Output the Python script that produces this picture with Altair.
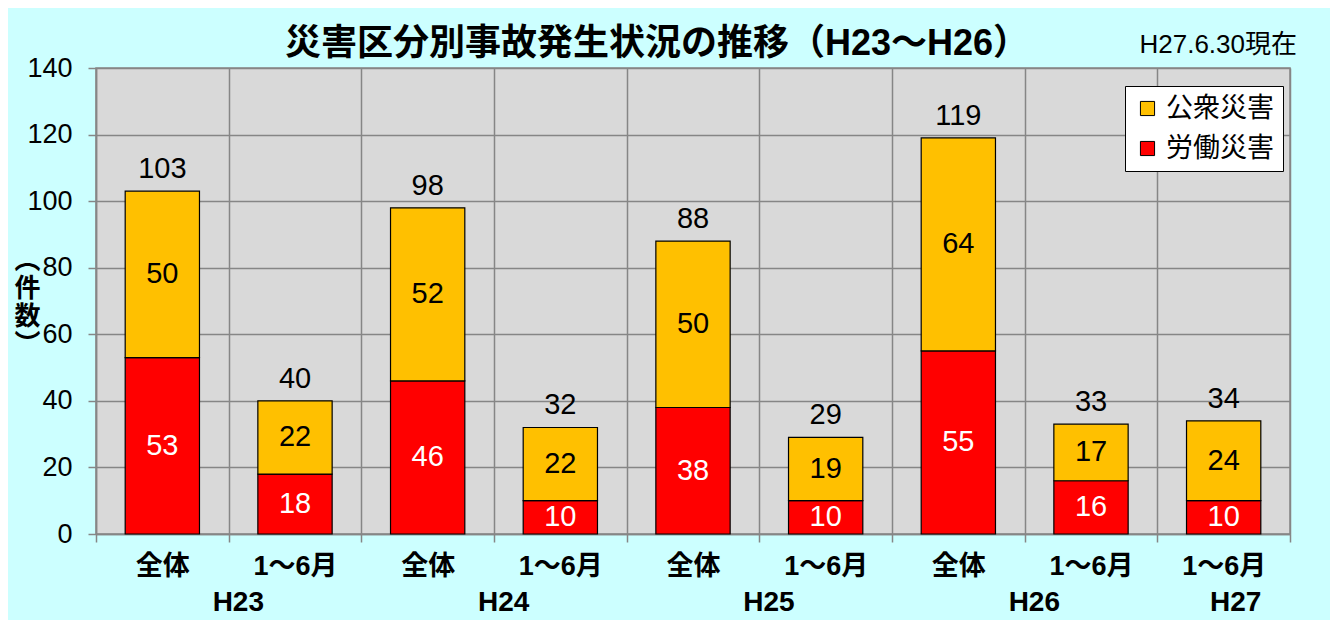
import altair as alt
import pandas as pd

# ---- data ----
years = ["H23", "H23", "H24", "H24", "H25", "H25", "H26", "H26", "H27"]
periods = ["全体", "1～6月", "全体", "1～6月", "全体", "1～6月", "全体", "1～6月", "1～6月"]
public = [50, 22, 52, 22, 50, 19, 64, 17, 24]   # 公衆災害
labor = [53, 18, 46, 10, 38, 10, 55, 16, 10]    # 労働災害
series_names = ["公衆災害", "労働災害"]
series_colors = ["#FFC000", "#FF0000"]
pair_labels = ["H23", "H24", "H25", "H26"]
single_labels = ["H27"]
y_title = ["︵", "件", "数", "︶"]
title_text = "災害区分別事故発生状況の推移（H23～H26）"
note_text = "H27.6.30現在"
y_ticks = [0, 20, 40, 60, 80, 100, 120, 140]

keys = [f"{p}|{y}" for p, y in zip(periods, years)]
rows = []
for k, y, pu, la in zip(keys, years, public, labor):
    rows.append({"key": k, "year": y, "series": "労働災害", "value": la, "ord": 0})
    rows.append({"key": k, "year": y, "series": "公衆災害", "value": pu, "ord": 1})
df = pd.DataFrame(rows)

first_keys = {}
for k, y in zip(keys, years):
    first_keys.setdefault(y, k)
pair_df = pd.DataFrame({"key": [first_keys[y] for y in pair_labels], "label": pair_labels})
single_df = pd.DataFrame({"key": [first_keys[y] for y in single_labels], "label": single_labels})
note_df = pd.DataFrame({"t": [note_text]})
title_df = pd.DataFrame({"t": [title_text]})

W, H = 1194, 466
FONT = "Liberation Sans, 'Noto Sans CJK JP', sans-serif"
GRID = "#868686"

x_scale = alt.Scale(paddingInner=0, paddingOuter=0)
x_axis = alt.Axis(
    title=None, labelExpr="split(datum.label, '|')[0]", labelAngle=0,
    tickBand="extent", grid=True, gridColor=GRID, gridWidth=1.5,
    tickColor=GRID, tickSize=8, tickWidth=1.5, domainColor=GRID, domainWidth=1.5,
    labelFont=FONT, labelFontSize=27, labelFontWeight="bold", labelColor="black",
    labelPadding=11,
)
y_axis = alt.Axis(
    values=y_ticks, title=y_title, titleAngle=0, titleX=-69, titleY=192,
    titleAlign="center", titleBaseline="middle", titleFont=FONT, titleFontSize=26,
    titleFontWeight="bold", titleColor="black", titleLineHeight=28,
    labelFont=FONT, labelFontSize=27, labelColor="black", labelPadding=16,
    tickColor=GRID, tickSize=8, tickWidth=1.5, domainColor=GRID, domainWidth=1.5,
    grid=True, gridColor=GRID, gridWidth=1.5,
)
y_scale = alt.Scale(domain=[0, 140])

x_enc = alt.X("key:N", sort=keys, scale=x_scale, axis=x_axis)

bars = alt.Chart(df).mark_bar(
    width=alt.RelativeBandSize(0.56), stroke="black", strokeWidth=1.2
).encode(
    x=x_enc,
    y=alt.Y("value:Q", stack="zero", scale=y_scale, axis=y_axis),
    color=alt.Color(
        "series:N",
        scale=alt.Scale(domain=series_names, range=series_colors),
        legend=alt.Legend(
            title=None, orient="none", legendX=1029, legendY=18,
            fillColor="white", strokeColor="black", padding=9,
            symbolType="square", symbolSize=200, symbolStrokeColor="black",
            symbolStrokeWidth=1, labelFont=FONT, labelFontSize=27,
            labelColor="black", labelOffset=5, rowPadding=12,
        ),
    ),
    order=alt.Order("ord:Q", sort="ascending"),
)

seg_text = alt.Chart(df).transform_stack(
    stack="value", groupby=["key"], as_=["v0", "v1"],
    sort=[alt.SortField("ord", order="ascending")],
).transform_calculate(mid="(datum.v0 + datum.v1) / 2").mark_text(
    font=FONT, fontSize=29, baseline="middle"
).encode(
    x=x_enc,
    y=alt.Y("mid:Q", scale=y_scale, axis=y_axis),
    text="value:Q",
    color=alt.condition("datum.series == '労働災害'", alt.value("white"), alt.value("black")),
)

totals = alt.Chart(df).mark_text(
    font=FONT, fontSize=29, baseline="alphabetic", dy=-13, color="black"
).encode(
    x=x_enc,
    y=alt.Y("sum(value):Q", scale=y_scale, axis=y_axis),
    text="sum(value):Q",
)

pair_text = alt.Chart(pair_df).mark_text(
    font=FONT, fontSize=28, fontWeight="bold", baseline="middle", dx=76, color="black"
).encode(x=x_enc, y=alt.value(H + 69), text="label:N")

single_text = alt.Chart(single_df).mark_text(
    font=FONT, fontSize=28, fontWeight="bold", baseline="middle", dx=12, color="black"
).encode(x=x_enc, y=alt.value(H + 69), text="label:N")

note = alt.Chart(note_df).mark_text(
    font=FONT, fontSize=26, align="right", baseline="middle", color="black"
).encode(x=alt.value(W + 7), y=alt.value(-23), text="t:N")

title = alt.Chart(title_df).mark_text(
    font=FONT, fontSize=36, fontWeight="bold", align="center", baseline="middle", color="black"
).encode(x=alt.value(W / 2 - 36), y=alt.value(-24), text="t:N")

chart = alt.layer(bars, seg_text, totals, pair_text, single_text, note, title).properties(
    width=W, height=H,
    autosize=alt.AutoSizeParams(type="none"),
    padding={"left": 88, "top": 60, "right": 40, "bottom": 86},
    background="#CCFFFF",
).configure_view(fill="#D9D9D9", stroke=GRID, strokeWidth=1.5)

chart.save("out.html", embed_options={"renderer": "svg", "actions": False})
